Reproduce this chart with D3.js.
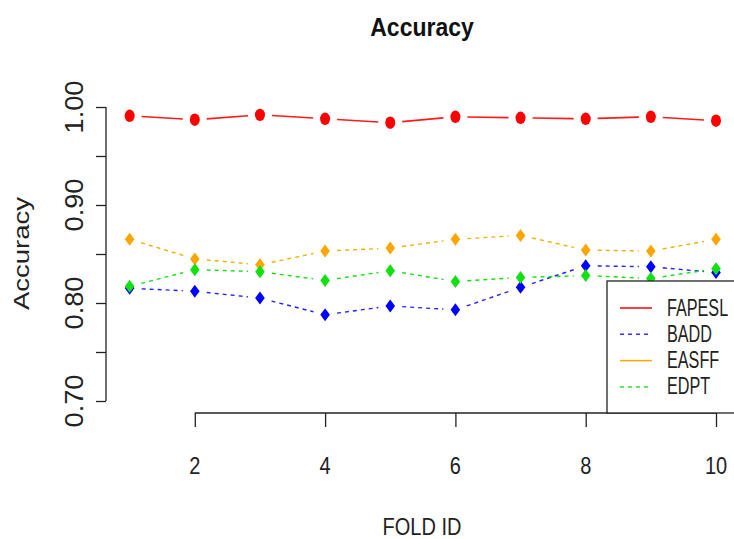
<!DOCTYPE html>
<html>
<head>
<meta charset="utf-8">
<script src="https://cdn.jsdelivr.net/npm/d3@7"></script>
<style>
  html, body { margin: 0; padding: 0; background: #fff; }
  svg { display: block; font-family: "Liberation Sans", Arial, sans-serif; }
</style>
</head>
<body>
<svg id="chart" width="734" height="539"></svg>
<script>
// ---- data ----
const folds = [1, 2, 3, 4, 5, 6, 7, 8, 9, 10];
const fapesl = [0.991, 0.987, 0.992, 0.988, 0.984, 0.990, 0.989, 0.988, 0.990, 0.986];
const badd   = [0.815, 0.812, 0.805, 0.788, 0.797, 0.793, 0.816, 0.838, 0.837, 0.831];
const easff  = [0.865, 0.845, 0.839, 0.853, 0.856, 0.865, 0.869, 0.854, 0.853, 0.865];
const edpt   = [0.817, 0.834, 0.832, 0.823, 0.833, 0.822, 0.826, 0.828, 0.825, 0.835];
const seriesNames = ["FAPESL", "BADD", "EASFF", "EDPT"];
const xTicks = [2, 4, 6, 8, 10];
const yTicks = [0.70, 0.75, 0.80, 0.85, 0.90, 0.95, 1.00];
const yLabels = [0.70, 0.80, 0.90, 1.00];

// ---- styles ----
const styles = {
  FAPESL: { color: "#ff0000", line: "#ff1a1a", dash: null, shape: "circle", legendDash: null, legendColor: "#ff0000" },
  BADD:   { color: "#0000ff", line: "#2222ff", dash: "4,4", shape: "diamond", legendDash: "4,4", legendColor: "#3333ff" },
  EASFF:  { color: "#ffa500", line: "#f0b000", dash: "4,4", shape: "diamond", legendDash: null, legendColor: "#ffa500" },
  EDPT:   { color: "#11e011", line: "#11e011", dash: "4,4", shape: "diamond", legendDash: "4,4", legendColor: "#22ee22" }
};
const seriesData = { FAPESL: fapesl, BADD: badd, EASFF: easff, EDPT: edpt };

const svg = d3.select("#chart");
svg.append("rect").attr("width", 734).attr("height", 539).attr("fill", "#fff");

const x = d3.scaleLinear().domain([2, 10]).range([194.8, 716]);
const y = d3.scaleLinear().domain([0.70, 1.00]).range([401, 107]);

// ---- title ----
svg.append("text")
  .attr("transform", "translate(422,36) scale(1,1.12)")
  .attr("text-anchor", "middle")
  .attr("font-weight", "bold").attr("font-size", 23)
  .attr("fill", "#111")
  .text("Accuracy");

// ---- y axis ----
const yAxisG = svg.append("g").attr("transform", "translate(106,0)");
const yAxis = d3.axisLeft(y).tickValues(yTicks).tickSize(10).tickFormat("");
yAxisG.call(yAxis);
yAxisG.select(".domain").attr("d", `M0,${y(1.0)}H0V${y(0.70)}`).attr("stroke", "#222").attr("stroke-width", 1.3);
yAxisG.selectAll(".tick line").attr("stroke", "#222").attr("stroke-width", 1.3);

svg.append("g").selectAll("text")
  .data(yLabels).enter().append("text")
  .attr("transform", d => `translate(83,${y(d)}) rotate(-90) scale(1.09,1)`)
  .attr("text-anchor", "middle")
  .attr("font-size", 25)
  .attr("fill", "#222")
  .text(d => d.toFixed(2));

svg.append("text")
  .attr("transform", `translate(29,253.5) rotate(-90) scale(1.25,1)`)
  .attr("text-anchor", "middle")
  .attr("font-size", 22)
  .attr("fill", "#222")
  .text("Accuracy");

// ---- x axis ----
const xAxisG = svg.append("g").attr("transform", "translate(0,413)");
const xAxis = d3.axisBottom(x).tickValues(xTicks).tickSize(14).tickFormat("");
xAxisG.call(xAxis);
xAxisG.select(".domain").attr("d", `M${x(2)},0H${x(10)}`).attr("stroke", "#222").attr("stroke-width", 1.3);
xAxisG.selectAll(".tick line").attr("stroke", "#222").attr("stroke-width", 1.3);

svg.append("g").selectAll("text")
  .data(xTicks).enter().append("text")
  .attr("transform", d => `translate(${x(d)},474) scale(1,1.2)`)
  .attr("text-anchor", "middle")
  .attr("font-size", 20)
  .attr("fill", "#222")
  .text(d => d);

svg.append("text")
  .attr("transform", `translate(422,535) scale(1,1.2)`)
  .attr("text-anchor", "middle")
  .attr("font-size", 20)
  .attr("fill", "#222")
  .text("FOLD ID");

// ---- series (type "b": lines with gaps around points) ----
const gap = 12;
seriesNames.forEach(name => {
  const vals = seriesData[name];
  const st = styles[name];
  const pts = folds.map((f, i) => [x(f), y(vals[i])]);
  const g = svg.append("g");
  const segs = d3.pairs(pts);
  g.selectAll("line").data(segs).enter().append("line")
    .each(function([a, b]) {
      const dx = b[0] - a[0], dy = b[1] - a[1];
      const L = Math.hypot(dx, dy);
      const ux = dx / L, uy = dy / L;
      d3.select(this)
        .attr("x1", a[0] + ux * gap).attr("y1", a[1] + uy * gap)
        .attr("x2", b[0] - ux * gap).attr("y2", b[1] - uy * gap);
    })
    .attr("stroke", st.line)
    .attr("stroke-width", name === "FAPESL" ? 1.6 : 1.4)
    .attr("stroke-dasharray", st.dash);
  if (st.shape === "circle") {
    g.selectAll("ellipse").data(pts).enter().append("ellipse")
      .attr("cx", d => d[0]).attr("cy", d => d[1])
      .attr("rx", 5).attr("ry", 6.2)
      .attr("fill", st.color);
  } else {
    g.selectAll("path").data(pts).enter().append("path")
      .attr("d", d => `M${d[0]},${d[1] - 6.5}L${d[0] + 4.8},${d[1]}L${d[0]},${d[1] + 6.5}L${d[0] - 4.8},${d[1]}Z`)
      .attr("fill", st.color);
  }
});

// ---- legend ----
const lg = svg.append("g");
lg.append("rect")
  .attr("x", 607).attr("y", 281).attr("width", 140).attr("height", 132)
  .attr("fill", "#fff").attr("stroke", "#222").attr("stroke-width", 1.3);
seriesNames.forEach((name, i) => {
  const st = styles[name];
  const cy = 308 + i * 26.3;
  lg.append("line")
    .attr("x1", 620).attr("x2", 652).attr("y1", cy).attr("y2", cy)
    .attr("stroke", st.legendColor).attr("stroke-width", 1.5)
    .attr("stroke-dasharray", st.legendDash);
  lg.append("text")
    .attr("transform", `translate(667,${cy + 7.5}) scale(1,1.45)`)
    .attr("font-size", 16.2)
    .attr("fill", "#222")
    .text(name);
});
</script>
</body>
</html>
